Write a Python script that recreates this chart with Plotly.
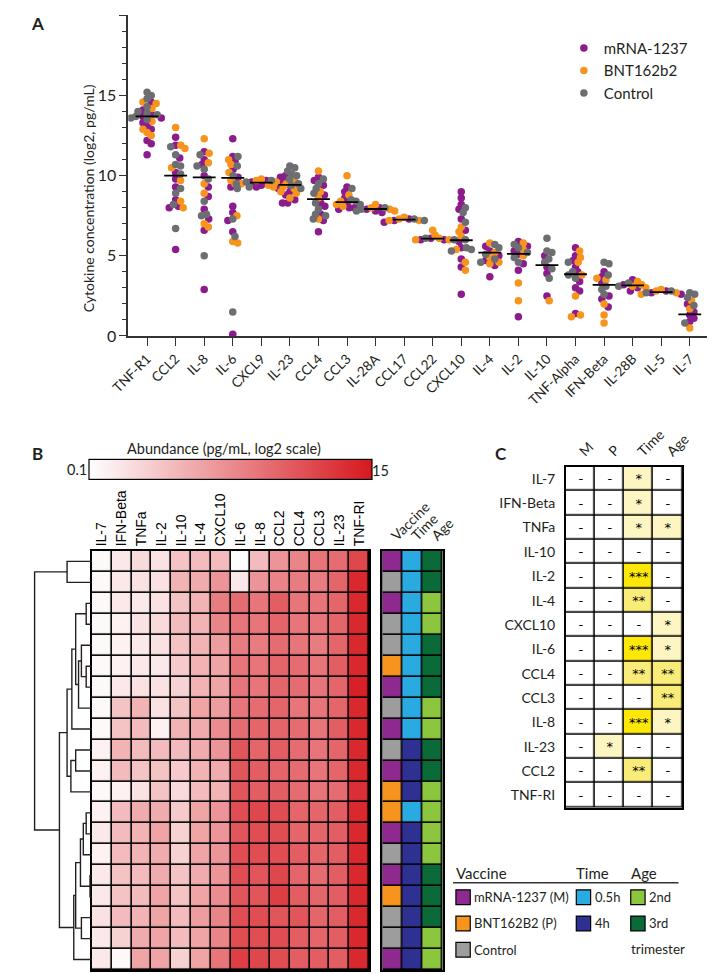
import math
import plotly.graph_objects as go

W, H = 717, 974


def px(x):
    return x / W


def py(y):
    return 1 - y / H


# ---------------- panel A data ----------------
categories = ["TNF-R1", "CCL2", "IL-8", "IL-6", "CXCL9", "IL-23", "CCL4", "CCL3", "IL-28A", "CCL17",
              "CCL22", "CXCL10", "IL-4", "IL-2", "IL-10", "TNF-Alpha", "IFN-Beta", "IL-28B", "IL-5", "IL-7"]

mrna_vals = [
    [14.6, 14.1, 13.8, 13.7, 13.6, 13.3, 13.1, 12.9, 12.2, 12.0, 11.3],
    [12.4, 11.9, 11.1, 10.2, 9.8, 9.3, 8.5, 8.1, 8.0, 5.4],
    [11.5, 11.0, 10.7, 10.0, 9.3, 8.7, 7.9, 7.3, 6.6, 2.9],
    [12.3, 11.2, 10.9, 10.4, 9.9, 9.3, 8.1, 7.7, 7.2, 6.5, 0.1],
    [9.7, 9.6, 9.5, 9.4, 9.3, 9.2],
    [10.0, 9.9, 9.6, 9.4, 9.0, 8.8, 8.5, 8.3, 8.3],
    [9.9, 9.7, 9.4, 8.8, 8.3, 8.1, 7.6, 7.2, 6.5],
    [9.3, 9.0, 8.6, 8.3, 8.0, 8.0, 7.9],
    [8.0, 7.9, 7.8, 7.7],
    [7.3, 7.2, 7.1],
    [6.1, 6.0, 6.0],
    [9.0, 8.6, 8.2, 7.9, 7.3, 6.6, 5.9, 5.5, 4.8, 4.3, 2.6],
    [5.6, 5.3, 5.0, 4.7, 4.4, 3.7],
    [5.9, 5.6, 5.3, 5.1, 4.5, 4.1, 1.2],
    [5.0, 4.3, 3.9, 2.5],
    [5.5, 5.0, 4.7, 4.3, 4.0, 3.4, 3.0, 2.8, 1.4],
    [4.0, 3.7, 3.3, 2.5, 2.3, 1.8],
    [3.5, 3.2, 3.0, 2.8],
    [2.8, 2.7, 2.6],
    [2.0, 1.5, 1.3, 1.1, 0.9],
]
bnt_vals = [
    [14.6, 14.5, 14.2, 13.4, 12.9, 12.7, 12.5],
    [13.0, 11.9, 11.7, 10.5, 9.7, 8.4, 8.0],
    [12.3, 11.4, 10.8, 9.5, 8.9, 7.0, 6.8],
    [11.0, 10.7, 10.2, 9.7, 9.5, 7.5, 5.9, 5.8],
    [9.8, 9.7, 9.6, 9.5, 9.5, 9.4, 9.3],
    [9.7, 9.3, 9.2, 9.0, 8.9, 8.6],
    [10.3, 9.0, 8.6, 7.3],
    [10.0, 8.8, 8.4, 8.2, 8.1],
    [8.2, 8.0, 7.9, 7.8],
    [7.4, 7.3, 7.2, 7.2],
    [6.6, 6.3, 6.1, 6.0, 6.0],
    [6.8, 6.5, 6.2, 5.4, 4.6, 4.1],
    [5.8, 5.2, 4.9, 4.6, 4.5],
    [5.8, 5.4, 5.0, 3.3, 2.2],
    [2.2],
    [5.3, 4.9, 4.6, 3.8, 2.5, 1.3, 1.2],
    [3.6, 3.5, 2.0, 1.3, 0.8],
    [3.4, 3.2, 3.1, 3.0],
    [2.9, 2.8, 2.7, 2.6],
    [2.2, 1.7, 0.5],
]
ctrl_vals = [
    [15.2, 15.0, 14.8, 14.3, 14.0, 13.9, 13.8, 13.7, 13.6, 13.5],
    [11.8, 11.3, 10.7, 10.6, 10.1, 9.2, 8.9, 8.2, 6.7],
    [11.3, 10.6, 10.4, 9.8, 8.4, 7.6, 7.5, 5.0],
    [11.2, 10.6, 10.0, 9.2, 7.3, 6.2, 1.5],
    [9.7, 9.6, 9.5, 9.4, 9.3],
    [10.6, 10.5, 10.3, 10.1, 10.0, 9.8, 9.5, 9.2],
    [9.8, 9.5, 9.2, 8.9, 8.3, 7.9, 7.6, 7.5, 7.3],
    [9.2, 8.5, 8.4, 8.2],
    [8.0, 7.9, 7.8],
    [7.3, 7.2],
    [6.1, 6.0],
    [8.0, 7.7, 7.1, 6.0, 5.5, 5.4, 5.3],
    [5.7, 5.5, 5.1, 4.8, 4.6],
    [5.7, 5.5, 5.2, 4.9, 4.6],
    [6.1, 5.3, 5.2, 4.8, 4.6, 4.2, 3.6],
    [4.6, 4.0, 3.8, 3.6],
    [4.6, 4.5, 3.8, 3.1, 2.9, 2.6],
    [3.3, 3.1],
    [2.8, 2.7],
    [2.7, 2.6, 2.4, 1.9, 0.8],
]
medians = [13.7, 10.0, 9.9, 9.86, 9.57, 9.43, 8.54, 8.35, 7.92, 7.26,
           6.07, 5.97, 5.2, 5.12, 4.42, 3.85, 3.19, 3.15, 2.74, 1.34]

groups = [("mRNA-1237", "#8b1c8d", mrna_vals),
          ("BNT162b2", "#f7941d", bnt_vals),
          ("Control", "#6d6e71", ctrl_vals)]

# ---------------- panel B data ----------------
heat_cols = ["IL-7", "IFN-Beta", "TNFa", "IL-2", "IL-10", "IL-4", "CXCL10", "IL-6", "IL-8",
             "CCL2", "CCL4", "CCL3", "IL-23", "TNF-RI"]
heat_vals = [
    [0.5, 1.5, 2.5, 2.0, 4.0, 4.5, 4.5, 0.1, 4.5, 7.0, 8.0, 9.0, 9.5, 12.0],
    [0.5, 1.5, 2.0, 2.0, 5.0, 5.5, 7.0, 1.5, 7.0, 8.0, 8.5, 8.5, 10.0, 14.0],
    [0.5, 1.5, 1.5, 2.0, 4.0, 5.0, 8.5, 9.5, 9.0, 10.5, 9.0, 9.0, 10.0, 14.0],
    [0.5, 1.0, 2.0, 2.5, 4.5, 5.0, 8.0, 9.0, 9.0, 10.0, 9.0, 9.0, 10.0, 14.0],
    [0.5, 1.0, 1.5, 2.0, 4.0, 5.0, 6.5, 8.5, 8.5, 9.5, 9.0, 8.5, 10.0, 14.0],
    [0.5, 1.0, 1.5, 1.5, 3.5, 5.0, 6.0, 9.0, 9.0, 10.0, 9.5, 9.0, 10.5, 14.0],
    [0.5, 1.5, 2.0, 2.0, 3.0, 5.0, 6.0, 9.0, 9.0, 10.0, 9.5, 9.0, 10.0, 14.5],
    [0.5, 4.0, 5.0, 2.0, 4.0, 6.0, 6.5, 9.0, 9.5, 10.0, 9.0, 9.0, 10.0, 14.0],
    [0.5, 4.0, 4.5, 1.0, 5.0, 5.5, 7.5, 9.5, 10.0, 10.0, 9.5, 9.0, 10.5, 14.0],
    [1.0, 5.0, 4.5, 4.5, 4.5, 5.5, 7.0, 11.0, 10.0, 10.5, 9.5, 9.0, 10.0, 14.0],
    [1.0, 4.5, 4.0, 4.0, 3.5, 5.0, 5.5, 11.0, 10.5, 10.0, 9.5, 9.0, 10.0, 14.0],
    [0.5, 1.0, 2.0, 4.0, 2.5, 4.5, 5.0, 11.0, 10.5, 10.5, 9.5, 9.0, 9.5, 13.5],
    [1.0, 4.5, 5.5, 5.5, 3.5, 6.0, 7.0, 11.5, 12.0, 11.5, 10.0, 10.0, 10.5, 14.0],
    [1.5, 4.5, 5.0, 6.0, 3.0, 6.0, 7.0, 11.0, 11.5, 11.5, 10.0, 10.0, 10.5, 14.0],
    [1.0, 4.5, 5.0, 5.5, 3.0, 6.0, 7.0, 11.5, 11.5, 11.5, 10.5, 10.0, 10.5, 14.0],
    [1.5, 4.0, 4.5, 5.5, 4.0, 5.5, 7.0, 11.5, 11.0, 12.0, 10.0, 9.5, 10.5, 14.0],
    [1.5, 4.0, 4.5, 6.0, 4.0, 6.0, 7.5, 11.0, 11.0, 12.5, 10.5, 10.0, 10.5, 14.0],
    [2.0, 4.5, 5.0, 6.0, 4.5, 6.5, 8.0, 11.5, 11.5, 11.0, 11.0, 10.0, 10.5, 14.0],
    [1.5, 3.0, 5.5, 6.0, 4.5, 6.0, 8.0, 11.5, 11.5, 11.5, 10.5, 10.0, 10.5, 14.0],
    [1.5, 0.5, 6.0, 6.0, 3.0, 6.0, 9.0, 12.5, 12.0, 11.5, 10.5, 10.5, 10.5, 14.0],
]
row_vaccine = ["M", "C", "M", "C", "C", "P", "M", "C", "M", "C",
               "M", "P", "P", "M", "C", "M", "P", "C", "C", "M"]
row_time = ["0.5h", "0.5h", "0.5h", "0.5h", "0.5h", "0.5h", "0.5h", "0.5h", "0.5h", "4h",
            "4h", "4h", "0.5h", "4h", "4h", "4h", "4h", "4h", "4h", "4h"]
row_age = ["3rd", "3rd", "2nd", "2nd", "3rd", "3rd", "3rd", "2nd", "2nd", "3rd",
           "3rd", "2nd", "2nd", "2nd", "2nd", "3rd", "3rd", "3rd", "2nd", "2nd"]
annot_cols = ["Vaccine", "Time", "Age"]

# dendrogram merges: (child a, child b, height); new nodes numbered from 20
merges = [(0, 1, 26), (2, 3, 6), (5, 6, 6), (4, 22, 11), (23, 7, 14), (21, 24, 17),
          (25, 8, 21), (9, 10, 17), (27, 11, 22), (26, 28, 26), (12, 13, 6), (30, 14, 9),
          (15, 16, 2), (31, 32, 12), (17, 18, 11), (33, 34, 17), (35, 19, 19),
          (29, 36, 34), (20, 37, 60)]

annot_keys = ["M", "P", "C", "0.5h", "4h", "2nd", "3rd"]
annot_colors = ["#8e2a8f", "#f7941d", "#9d9d9d", "#29abe2", "#2e3192", "#8cc63f", "#0b6b38"]
annot_labels = ["mRNA-1237 (M)", "BNT162B2 (P)", "Control", "0.5h", "4h", "2nd", "3rd"]

# ---------------- panel C data ----------------
sig_rows = ["IL-7", "IFN-Beta", "TNFa", "IL-10", "IL-2", "IL-4", "CXCL10", "IL-6",
            "CCL4", "CCL3", "IL-8", "IL-23", "CCL2", "TNF-RI"]
sig_cols = ["M", "P", "Time", "Age"]
sig_vals = [
    ["-", "-", "*", "-"],
    ["-", "-", "*", "-"],
    ["-", "-", "*", "*"],
    ["-", "-", "-", "-"],
    ["-", "-", "***", "-"],
    ["-", "-", "**", "-"],
    ["-", "-", "-", "*"],
    ["-", "-", "***", "*"],
    ["-", "-", "**", "**"],
    ["-", "-", "-", "**"],
    ["-", "-", "***", "*"],
    ["-", "*", "-", "-"],
    ["-", "-", "**", "-"],
    ["-", "-", "-", "-"],
]
sig_levels = ["-", "*", "**", "***"]
sig_colors = ["#ffffff", "#fdf6c2", "#faec78", "#fde80a"]

FONT = "Lato, Open Sans, sans-serif"
ARIAL = "Liberation Sans, Arial, sans-serif"
TXT = "#231f20"

# ---------------- layout geometry ----------------
A_X0, A_X1, A_Y0, A_Y1 = 107, 713, 331, 7.5
A_XRANGE = [-0.66, 19.61]
A_YRANGE = [0, 20]
PX_PER_X = (A_X1 - A_X0) / (A_XRANGE[1] - A_XRANGE[0])
PX_PER_Y = (A_Y0 - A_Y1) / (A_YRANGE[1] - A_YRANGE[0])

HM_X0, HM_X1, HM_Y0, HM_Y1 = 69, 359, 548, 971


def swarm(values, d=5.4):
    """simple beeswarm, offsets returned in pixels"""
    order = sorted(range(len(values)), key=lambda i: -values[i])
    placed = []
    offs = [0.0] * len(values)
    for i in order:
        y = values[i] * PX_PER_Y
        cands = [0.0]
        for (qx, qy) in placed:
            dy = abs(qy - y)
            if dy < d:
                dx = math.sqrt(d * d - dy * dy)
                cands += [qx + dx, qx - dx]
        cands.sort(key=abs)
        for c in cands:
            if all((c - qx) ** 2 + (y - qy) ** 2 >= d * d - 1e-6 for qx, qy in placed):
                offs[i] = c
                placed.append((c, y))
                break
    return offs


fig = go.Figure()

# ---- panel A scatter ----
pts = {g[0]: ([], []) for g in groups}
for ci in range(len(categories)):
    vals, labs = [], []
    for name, _, data in groups:
        vals += data[ci]
        labs += [name] * len(data[ci])
    offs = swarm(vals)
    for v, lab, o in zip(vals, labs, offs):
        pts[lab][0].append(ci + o / PX_PER_X)
        pts[lab][1].append(v)

for name, color, _ in groups:
    fig.add_trace(go.Scatter(x=pts[name][0], y=pts[name][1], mode="markers", name=name,
                             marker=dict(size=7.5, color=color, line=dict(width=0)),
                             xaxis="x", yaxis="y"))

mx, my = [], []
for ci, m in enumerate(medians):
    mx += [ci - 0.4, ci + 0.4, None]
    my += [m, m, None]
fig.add_trace(go.Scatter(x=mx, y=my, mode="lines", line=dict(color="black", width=1.8),
                         showlegend=False, hoverinfo="skip", xaxis="x", yaxis="y"))

# ---- panel B heatmap ----
fig.add_trace(go.Heatmap(
    z=heat_vals, x=heat_cols, y=list(range(len(heat_vals))),
    colorscale=[[0, "#ffffff"], [1, "#d6181f"]], zmin=0.1, zmax=15,
    xgap=1.6, ygap=1.6, xaxis="x2", yaxis="y2", hoverinfo="skip",
    colorbar=dict(orientation="h", x=px(214.5), xanchor="center", y=py(466), yanchor="middle",
                  len=283, lenmode="pixels", thickness=20, thicknessmode="pixels",
                  outlinewidth=1.2, outlinecolor="black", showticklabels=False, ticks="",
                  xpad=0, ypad=0)))

annot_z = [[annot_keys.index(v), annot_keys.index(t), annot_keys.index(a)]
           for v, t, a in zip(row_vaccine, row_time, row_age)]
n_ann = len(annot_colors)
annot_scale = []
for i, c in enumerate(annot_colors):
    annot_scale += [[i / n_ann, c], [(i + 1) / n_ann, c]]
fig.add_trace(go.Heatmap(z=annot_z, x=annot_cols, y=list(range(len(annot_z))),
                         colorscale=annot_scale, zmin=-0.5, zmax=n_ann - 0.5, showscale=False,
                         xgap=1.6, ygap=1.6, xaxis="x3", yaxis="y3", hoverinfo="skip"))

# dendrogram
pos = {i: (0.0, float(i)) for i in range(len(heat_vals))}
dx, dy = [], []
for k, (a, b, h) in enumerate(merges):
    ha, ya = pos[a]
    hb, yb = pos[b]
    dx += [ha, h, h, hb, None]
    dy += [ya, ya, yb, yb, None]
    pos[len(heat_vals) + k] = (h, (ya + yb) / 2)
fig.add_trace(go.Scatter(x=dx, y=dy, mode="lines", line=dict(color="#231f20", width=1.4),
                         showlegend=False, hoverinfo="skip", xaxis="x5", yaxis="y5"))

# ---- panel C table ----
sig_z = [[sig_levels.index(s) for s in row] for row in sig_vals]
n_sig = len(sig_colors)
sig_scale = []
for i, c in enumerate(sig_colors):
    sig_scale += [[i / n_sig, c], [(i + 1) / n_sig, c]]
fig.add_trace(go.Heatmap(z=sig_z, x=sig_cols, y=sig_rows, text=sig_vals, texttemplate="%{text}",
                         textfont=dict(family="DejaVu Sans, sans-serif", size=13, color="black"),
                         colorscale=sig_scale, zmin=-0.5, zmax=n_sig - 0.5, showscale=False,
                         xgap=1.6, ygap=1.6, xaxis="x4", yaxis="y4", hoverinfo="skip"))

box_axis = dict(showline=True, mirror=True, linecolor="black", linewidth=1.5,
                showgrid=False, zeroline=False, ticks="")

fig.update_layout(
    width=W, height=H, margin=dict(l=0, r=0, t=0, b=0),
    paper_bgcolor="white", plot_bgcolor="rgba(0,0,0,0)",
    font=dict(family=FONT, color=TXT),
    showlegend=True,
    legend=dict(x=px(563), y=py(24), xanchor="left", yanchor="top", font=dict(size=15, color=TXT),
                bgcolor="rgba(0,0,0,0)"),
    xaxis=dict(domain=[px(A_X0), px(A_X1)], range=A_XRANGE, anchor="y",
               tickvals=list(range(len(categories))), ticktext=categories, tickangle=-45,
               ticks="outside", ticklen=8, tickwidth=1.4, tickcolor="#333",
               showline=True, linewidth=1.5, linecolor="#333", showgrid=False, zeroline=False,
               tickfont=dict(size=13.5)),
    yaxis=dict(domain=[py(A_Y0), py(A_Y1)], range=A_YRANGE, anchor="x",
               tickvals=[0, 5, 10, 15, 20], ticks="outside", ticklen=7, tickwidth=1.4, tickcolor="#333",
               minor=dict(dtick=1, ticklen=4, tickwidth=1.2, ticks="outside", tickcolor="#333"),
               showline=True, linewidth=1.5, linecolor="#333", showgrid=False, zeroline=False,
               tickfont=dict(size=16)),
    xaxis2=dict(domain=[px(HM_X0), px(HM_X1)], anchor="y2", side="top", tickangle=-90,
                tickfont=dict(family=ARIAL, size=14, color="black"), **box_axis),
    yaxis2=dict(domain=[py(HM_Y1), py(HM_Y0)], anchor="x2", range=[len(heat_vals) - 0.5, -0.5],
                showticklabels=False, **box_axis),
    xaxis3=dict(domain=[px(373), px(436)], anchor="y3", side="top", tickangle=-45,
                tickfont=dict(size=14), **box_axis),
    yaxis3=dict(domain=[py(HM_Y1), py(HM_Y0)], anchor="x3", range=[len(heat_vals) - 0.5, -0.5],
                showticklabels=False, **box_axis),
    xaxis4=dict(domain=[px(565), px(687)], anchor="y4", side="top", tickangle=-45,
                tickfont=dict(size=14), **box_axis),
    yaxis4=dict(domain=[py(807), py(463)], anchor="x4", autorange="reversed",
                tickfont=dict(size=14), ticklabelstandoff=6, **box_axis),
    xaxis5=dict(domain=[px(7), px(HM_X0)], anchor="y5", range=[62, 0], visible=False),
    yaxis5=dict(domain=[py(HM_Y1), py(HM_Y0)], anchor="x5", range=[len(heat_vals) - 0.5, -0.5],
                visible=False),
)

# black backing under the gapped heatmaps gives the cell borders
for ax in ["2", "3", "4"]:
    fig.add_shape(type="rect", xref="x%s domain" % ax, yref="y%s domain" % ax,
                  x0=0, x1=1, y0=0, y1=1, fillcolor="black", line=dict(width=0), layer="below")

ann = [
    dict(text="<b>A</b>", x=px(3), y=py(3), xanchor="left", yanchor="top", font=dict(size=17)),
    dict(text="<b>B</b>", x=px(4), y=py(437), xanchor="left", yanchor="top", font=dict(size=17)),
    dict(text="<b>C</b>", x=px(489), y=py(437), xanchor="left", yanchor="top", font=dict(size=17)),
    dict(text="Cytokine concentration (log2, pg/mL)", x=px(65), y=py(192), textangle=-90,
         xanchor="center", yanchor="middle", font=dict(size=14)),
    dict(text="Abundance (pg/mL, log2 scale)", x=px(207), y=py(445), xanchor="center",
         yanchor="middle", font=dict(size=14.5)),
    dict(text="0.1", x=px(66), y=py(466), xanchor="right", yanchor="middle", font=dict(size=14.5)),
    dict(text="15", x=px(360), y=py(467), xanchor="left", yanchor="middle", font=dict(size=14.5)),
    dict(text="Vaccine", x=px(448), y=py(873), xanchor="left", yanchor="middle", font=dict(size=15)),
    dict(text="Time", x=px(574), y=py(873), xanchor="left", yanchor="middle", font=dict(size=15)),
    dict(text="Age", x=px(631), y=py(873), xanchor="left", yanchor="middle", font=dict(size=15)),
    dict(text="trimester", x=px(631), y=py(950), xanchor="left", yanchor="middle", font=dict(size=13.5)),
]

# legend for the annotation columns
legend_cols = [(450, ["M", "P", "C"]), (576, ["0.5h", "4h"]), (633, ["2nd", "3rd"])]
for x0, keys in legend_cols:
    for j, key in enumerate(keys):
        yc = 897.5 + j * 26.5
        idx = annot_keys.index(key)
        fig.add_shape(type="rect", xref="paper", yref="paper", x0=px(x0), x1=px(x0 + 15),
                      y0=py(yc + 7.5), y1=py(yc - 7.5), fillcolor=annot_colors[idx],
                      line=dict(color="black", width=1.2))
        ann.append(dict(text=annot_labels[idx], x=px(x0 + 17), y=py(yc), xanchor="left",
                        yanchor="middle", font=dict(size=13)))
fig.add_shape(type="line", xref="paper", yref="paper", x0=px(447), x1=px(683), y0=py(883), y1=py(883),
              line=dict(color="#333", width=1.5))

for a in ann:
    a.update(xref="paper", yref="paper", showarrow=False)
    fig.add_annotation(**a)

fig.write_html("out.html")
